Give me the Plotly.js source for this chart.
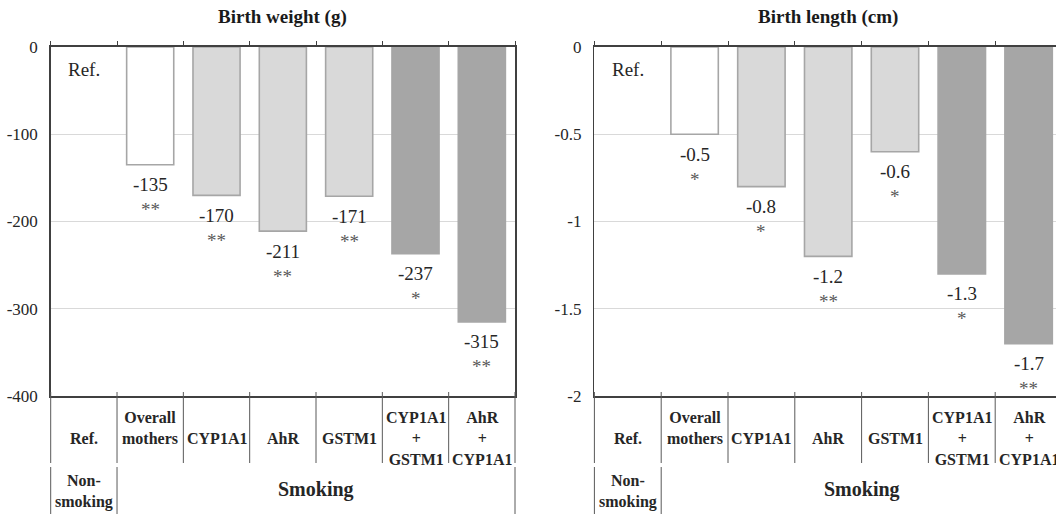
<!DOCTYPE html>
<html><head><meta charset="utf-8">
<script src="https://cdn.plot.ly/plotly-3.0.1.min.js"></script>
<style>html,body{margin:0;padding:0;overflow:hidden;background:#fff}</style>
</head><body><div id="chart" style="width:1064px;height:516px"></div>
<script>
// ---- data ----
const categories = ["Ref.", "Overall<br>mothers", "CYP1A1", "AhR", "GSTM1", "CYP1A1<br>+<br>GSTM1", "AhR<br>+<br>CYP1A1"];
const groupLabels = ["Non-<br>smoking", "Smoking"];
const refLabel = "Ref.";
const weightTitle = "Birth weight (g)";
const lengthTitle = "Birth length (cm)";
const weightValues = [0, -135, -170, -211, -171, -237, -315];
const lengthValues = [0, -0.5, -0.8, -1.2, -0.6, -1.3, -1.7];
const weightLabels = ["", "-135", "-170", "-211", "-171", "-237", "-315"];
const lengthLabels = ["", "-0.5", "-0.8", "-1.2", "-0.6", "-1.3", "-1.7"];
const weightSig = ["", "**", "**", "**", "**", "*", "**"];
const lengthSig = ["", "*", "*", "**", "*", "*", "**"];
const weightTicks = [0, -100, -200, -300, -400];
const weightTickText = ["0", "-100", "-200", "-300", "-400"];
const lengthTicks = [0, -0.5, -1, -1.5, -2];
const lengthTickText = ["0", "-0.5", "-1", "-1.5", "-2"];

// ---- styles ----
const barFill = ["rgba(0,0,0,0)", "#ffffff", "#d9d9d9", "#d9d9d9", "#d9d9d9", "#a6a6a6", "#a6a6a6"];
const barLine = ["rgba(0,0,0,0)", "#a6a6a6", "#a6a6a6", "#a6a6a6", "#a6a6a6", "#a6a6a6", "#a6a6a6"];
const FONT = "Liberation Serif";
const W = 1064, H = 516, TOP = 47, BOTTOM = 396;
const PH = BOTTOM - TOP;
const py = px => (BOTTOM - px) / PH;   // pixel row -> paper y

const n = categories.length;
const idx = categories.map((_, i) => i);
const data = [], annotations = [], shapes = [];
const layout = {
  width: W, height: H, margin: {l: 0, r: 0, t: TOP, b: H - BOTTOM, pad: 0},
  paper_bgcolor: "#fff", plot_bgcolor: "#fff", showlegend: false,
  font: {family: FONT, color: "#262626"},
  annotations, shapes
};

function panel(k, domain, values, labels, sig, ticks, tickText, title) {
  const xa = k === 1 ? "x" : "x2", ya = k === 1 ? "y" : "y2";
  const xk = k === 1 ? "xaxis" : "xaxis2", yk = k === 1 ? "yaxis" : "yaxis2";
  const lo = Math.min(...ticks), hi = Math.max(...ticks);
  data.push({
    type: "bar", x: idx, y: values, xaxis: xa, yaxis: ya, width: 0.71,
    marker: {color: barFill, line: {color: barLine, width: 1.6}},
    hoverinfo: "skip"
  });
  layout[xk] = {
    domain: domain, anchor: ya, range: [-0.5, n - 0.5], side: "top",
    showline: true, linecolor: "#404040", linewidth: 2, mirror: true,
    ticks: "outside", tickvals: idx.concat([n]).map(i => i - 0.5), ticklen: 4,
    tickcolor: "#404040", tickwidth: 1, showticklabels: false,
    showgrid: false, zeroline: false, fixedrange: true
  };
  layout[yk] = {
    anchor: xa, range: [lo, hi], tickvals: ticks, ticktext: tickText,
    showgrid: true, gridcolor: "#d9d9d9", gridwidth: 1,
    showline: true, linecolor: "#404040", linewidth: 1.5, mirror: true,
    ticks: "", ticklabelstandoff: 8, zeroline: false,
    tickfont: {family: FONT, size: 17, color: "#262626"}, fixedrange: true
  };
  // title
  annotations.push({xref: xa + " domain", yref: "paper", x: 0.5, y: py(17),
    text: "<b>" + title + "</b>", showarrow: false, yanchor: "middle",
    font: {family: FONT, size: 19, color: "#1a1a1a"}});
  // Ref. inside plot
  annotations.push({xref: xa, yref: ya, x: 0, y: values[0], yshift: -22,
    text: refLabel, showarrow: false, yanchor: "middle",
    font: {family: FONT, size: 19, color: "#262626"}});
  // value labels and significance
  for (let i = 1; i < n; i++) {
    annotations.push({xref: xa, yref: ya, x: i, y: values[i], yshift: -20,
      text: labels[i], showarrow: false, yanchor: "middle",
      font: {family: FONT, size: 19, color: "#262626"}});
    annotations.push({xref: xa, yref: ya, x: i, y: values[i], yshift: -45,
      text: sig[i], showarrow: false, yanchor: "middle",
      font: {family: FONT, size: 19, color: "#595959"}});
  }
  // table row 1: category names
  for (let i = 0; i < n; i++) {
    const lines = categories[i].split("<br>").length;
    const cy = lines === 2 ? 428 : 438;
    annotations.push({xref: xa, yref: "paper", x: i, y: py(cy),
      text: "<b>" + categories[i] + "</b>", showarrow: false, yanchor: "middle",
      font: {family: FONT, size: 16, color: "#262626"}});
  }
  // table row 2: groups
  annotations.push({xref: xa, yref: "paper", x: 0, y: py(491),
    text: "<b>" + groupLabels[0] + "</b>", showarrow: false, yanchor: "middle",
    font: {family: FONT, size: 16, color: "#262626"}});
  annotations.push({xref: xa, yref: "paper", x: (1 + n - 1) / 2, y: py(490),
    text: "<b>" + groupLabels[1] + "</b>", showarrow: false, yanchor: "middle",
    font: {family: FONT, size: 20, color: "#262626"}});
  // table lines
  for (let b = 0; b <= n; b++) {
    shapes.push({type: "line", xref: xa + " domain", yref: "paper",
      x0: b / n, x1: b / n, y0: py(392), y1: py(463),
      line: {color: "#595959", width: 1}});
  }
  [0, 1, n].forEach(b => shapes.push({type: "line", xref: xa + " domain", yref: "paper",
      x0: b / n, x1: b / n, y0: py(467), y1: py(514),
      line: {color: "#595959", width: 1}}));
}

panel(1, [50.7 / W, 515 / W], weightValues, weightLabels, weightSig, weightTicks, weightTickText, weightTitle);
panel(2, [594.4 / W, 1062 / W], lengthValues, lengthLabels, lengthSig, lengthTicks, lengthTickText, lengthTitle);

Plotly.newPlot("chart", data, layout, {displayModeBar: false, staticPlot: true});
</script></body></html>
